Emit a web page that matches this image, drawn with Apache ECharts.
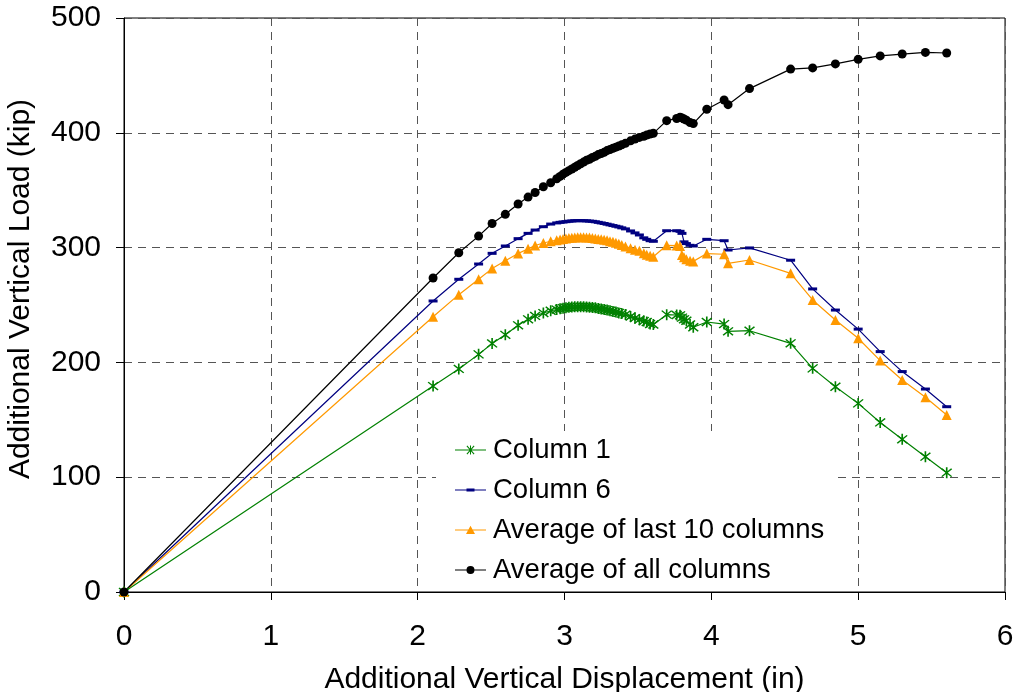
<!DOCTYPE html>
<html>
<head>
<meta charset="utf-8">
<script src="https://cdn.jsdelivr.net/npm/echarts@6/dist/echarts.min.js"></script>
<style>
  html, body { margin: 0; padding: 0; background: #fff; }
  #chart { width: 1013px; height: 692px; }
</style>
</head>
<body>
<div id="chart"></div>
<script>
// displacement (in), shared by all four curves
var disp = [0, 2.105, 2.28, 2.415, 2.507, 2.597, 2.684, 2.752, 2.80, 2.856, 2.906,
  2.947, 2.97, 2.99, 3.01, 3.03, 3.05, 3.07, 3.09, 3.11, 3.13, 3.15, 3.17, 3.19, 3.21,
  3.23, 3.25, 3.27, 3.29, 3.31, 3.33, 3.35, 3.37, 3.39, 3.415, 3.45, 3.48, 3.51, 3.54,
  3.56, 3.583, 3.605, 3.696, 3.764, 3.787, 3.80, 3.814, 3.83, 3.855, 3.877, 3.969,
  4.087, 4.114, 4.26, 4.54, 4.69, 4.845, 5.0, 5.15, 5.30, 5.458, 5.603];

var column1 = [0, 179.4, 194.3, 207, 216.5, 224, 232.3, 237.5, 240.5, 243, 245,
  246, 246.8, 247.2, 247.6, 248, 248.2, 248.4, 248.5, 248.5, 248.5, 248.3, 248.1, 247.8, 247.5,
  247, 246.6, 246.1, 245.6, 245, 244.4, 243.8, 243.1, 242.5, 241.7, 240, 238.6, 237.2, 236,
  235.2, 233.4, 233, 241.6, 241.3, 241, 239, 237.5, 236.3, 233, 230.6, 235.2,
  233.4, 227.1, 227.6, 216.6, 194.8, 178.8, 164.3, 147.7, 133, 117.9, 103.9];

var column6 = [0, 253.5, 272.4, 285.7, 295, 301.4, 307.8, 312.4, 315.3, 318.2, 320.5,
  321.5, 322, 322.3, 322.6, 323, 323.2, 323.4, 323.5, 323.5, 323.4, 323.3, 323.1, 322.9, 322.5,
  322, 321.5, 321, 320.4, 319.8, 319.2, 318.6, 318, 317.2, 316.3, 314.5, 312.8, 311, 308.5,
  307.2, 306, 305.5, 314.7, 314.7, 314.2, 312.4, 305, 303.5, 302, 301.4, 307.2,
  306, 297.9, 299.7, 289, 264, 245.6, 229, 209.4, 192, 176.8, 161.4];

var avgLast10 = [0, 239.8, 259, 272.4, 281.7, 288.6, 294.8, 298.9, 301.8, 304, 305.5,
  306.5, 307, 307.5, 308, 308.3, 308.6, 308.8, 309, 309, 309, 308.9, 308.7, 308.4, 308,
  307.6, 307.2, 306.8, 306.3, 305.6, 305, 304.2, 303.3, 302.3, 301, 299.5, 298.2, 297.2, 295,
  293.8, 292.8, 292, 302, 301.8, 301.4, 293.6, 291.5, 289.8, 288.5, 288, 294.8,
  294.2, 286.3, 289.2, 277.6, 254.4, 236.9, 221, 201.6, 184.7, 169.6, 154.2];

var avgAll = [0, 273.5, 295.5, 310, 321, 329, 338, 344, 348, 353, 356.5,
  360, 362, 364, 365.5, 367, 368.5, 370, 371.5, 373, 374.5, 376, 377, 378.5, 379.5,
  381, 382, 383, 384.5, 385.5, 386.5, 387.5, 388.5, 389.5, 390.8, 393, 394.5, 396, 397,
  398, 399, 399.5, 410.6, 412.5, 413.5, 413, 412, 411, 409, 408, 420.5,
  428.6, 424.5, 438.5, 455.5, 456.5, 460, 464, 467, 468.6, 470, 469.5];

var seriesNames = ['Column 1', 'Column 6', 'Average of last 10 columns', 'Average of all columns'];

function pairs(ys) {
  var out = [];
  for (var i = 0; i < disp.length; i++) out.push([disp[i], ys[i]]);
  return out;
}

// asterisk marker (X plus vertical bar), all sub-paths same winding
var asterisk = 'path://M4.4,0 L5.6,0 L5.6,10 L4.4,10 Z M1,1.8 L1.8,1 L9,8.2 L8.2,9 Z M1.8,9 L1,8.2 L8.2,1 L9,1.8 Z';

// legend icons: line + marker in a 31x12 box (corner points fix the box)
var box = 'M0,0 L0.01,0 L0.01,0.01 Z M31,12 L30.99,12 L30.99,11.99 Z ';
var lineBar = 'M0,5.4 L31,5.4 L31,6.6 L0,6.6 Z ';
var legendIcons = [
  'path://' + box + lineBar + 'M15,1.5 L16,1.5 L16,10.5 L15,10.5 Z M11.5,2.3 L12.3,1.5 L19.5,9.7 L18.7,10.5 Z M12.3,10.5 L11.5,9.7 L18.7,1.5 L19.5,2.3 Z',
  'path://' + box + lineBar + 'M11.5,4.5 L19.5,4.5 L19.5,7.5 L11.5,7.5 Z',
  'path://' + box + lineBar + 'M15.5,1.8 L20,10 L11,10 Z',
  'path://' + box + lineBar + 'M15.5,2 A4,4 0 1 1 15.49,2 Z'
];

var font = 'Liberation Sans, Arial, sans-serif';
var gridLine = { show: true, lineStyle: { color: '#555', type: [8, 6], width: 1 } };

var chart = echarts.init(document.getElementById('chart'));
chart.setOption({
  animation: false,
  backgroundColor: '#fff',
  grid: {
    left: 124, top: 18, right: 8, bottom: 100,
    outerBoundsMode: 'none', containLabel: false,
    show: true, borderColor: '#000', borderWidth: 1, backgroundColor: 'transparent'
  },
  legend: {
    data: seriesNames.map(function (n, i) { return { name: n, icon: legendIcons[i] }; }),
    orient: 'vertical',
    left: 436, top: 431,
    backgroundColor: '#fff',
    padding: [4, 12, 3, 19],
    itemWidth: 31, itemHeight: 12, itemGap: 10,
    textStyle: { fontFamily: font, fontSize: 27.5, color: '#000', lineHeight: 30, padding: [0, 0, 0, 2] }
  },
  xAxis: {
    type: 'value', min: 0, max: 6, interval: 1,
    name: 'Additional Vertical Displacement (in)',
    nameLocation: 'middle', nameGap: 73,
    nameTextStyle: { fontFamily: font, fontSize: 30, color: '#000' },
    axisLine: { show: true, onZero: false, lineStyle: { color: '#000', width: 1 } },
    axisTick: { show: true, inside: false, length: 8, lineStyle: { color: '#000' } },
    axisLabel: { fontFamily: font, fontSize: 30, color: '#000', margin: 30 },
    splitLine: gridLine
  },
  yAxis: {
    type: 'value', min: 0, max: 500, interval: 100,
    name: 'Additional Vertical Load (kip)',
    nameLocation: 'middle', nameGap: 88,
    nameTextStyle: { fontFamily: font, fontSize: 30, color: '#000', padding: [0, 0, 0, 32] },
    axisLine: { show: true, onZero: false, lineStyle: { color: '#000', width: 1 } },
    axisTick: { show: true, inside: false, length: 8, lineStyle: { color: '#000' } },
    axisLabel: { fontFamily: font, fontSize: 30, color: '#000', margin: 23 },
    splitLine: gridLine
  },
  series: [
    {
      name: seriesNames[0], type: 'line', data: pairs(column1),
      symbol: asterisk, symbolSize: 11, showAllSymbol: true,
      lineStyle: { color: '#008000', width: 1.2 },
      itemStyle: { color: '#008000' }
    },
    {
      name: seriesNames[1], type: 'line', data: pairs(column6),
      symbol: 'rect', symbolSize: [9, 3], showAllSymbol: true,
      lineStyle: { color: '#000080', width: 1.2 },
      itemStyle: { color: '#000080' }
    },
    {
      name: seriesNames[2], type: 'line', data: pairs(avgLast10),
      symbol: 'triangle', symbolSize: 10, showAllSymbol: true,
      lineStyle: { color: '#ff9900', width: 1.2 },
      itemStyle: { color: '#ff9900' }
    },
    {
      name: seriesNames[3], type: 'line', data: pairs(avgAll),
      symbol: 'circle', symbolSize: 9, showAllSymbol: true,
      lineStyle: { color: '#000', width: 1.2 },
      itemStyle: { color: '#000' }
    }
  ]
});
</script>
</body>
</html>
